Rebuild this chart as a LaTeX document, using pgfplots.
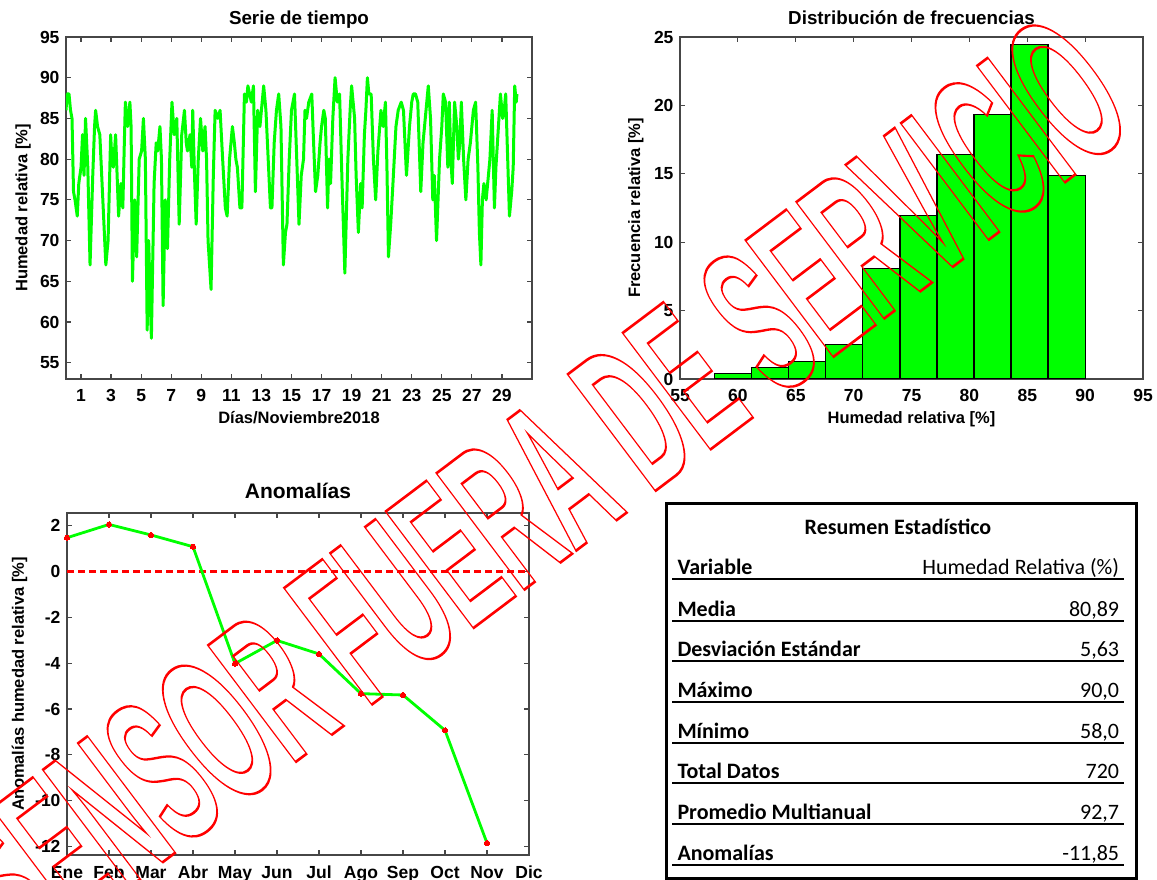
\documentclass[border=0pt]{standalone}
\usepackage{pgfplots}
\pgfplotsset{compat=1.18}
\usepackage{fontspec}
\setmainfont{Liberation Sans}
\newfontfamily\carlito{Carlito}

\definecolor{axgray}{RGB}{70,70,70}
\definecolor{lime}{RGB}{0,255,0}

\pgfplotsset{
  panel/.style={
    scale only axis,
    enlargelimits=false,
    axis line style={draw=axgray, line width=1.3pt},
    every tick/.style={draw=axgray, line width=1.2pt},
    major tick length=5pt,
    tick align=inside,
    /pgf/number format/assume math mode=true,
    tick label style={font=\bfseries\fontsize{17.5}{20}\selectfont},
    label style={font=\bfseries\fontsize{16.5}{19}\selectfont},
    title style={font=\bfseries\fontsize{18.8}{22}\selectfont,
      at={(axis description cs:0.5,1)}, anchor=base, yshift=6pt},
    xticklabel style={anchor=base, yshift=-23pt},
    yticklabel style={xshift=-3pt},
    xlabel style={at={([yshift=-45pt]axis description cs:0.5,0)}, anchor=base},
  }
}

\begin{document}
\begin{tikzpicture}
\useasboundingbox (0pt,0pt) rectangle (1157pt,880pt);

% serie horaria
\begin{axis}[panel,
  at={(66pt,501pt)}, anchor=south west,
  width=466pt, height=342pt,
  xmin=0, xmax=31, ymin=53, ymax=95,
  xtick={1,3,...,29}, ytick={55,60,...,95},
  title={Serie de tiempo},
  xlabel={Días/Noviembre2018},
  ylabel={Humedad relativa [\%]},
  ylabel style={at={([xshift=-38.5pt]axis description cs:0,0.5)}, anchor=base},
]
\addplot[lime, line width=3pt, line join=round] coordinates {
(0,86)(0.08,88)(0.2,88)(0.3,86)(0.4,85)(0.5,76)(0.6,75)(0.75,73)(0.85,77)(1.0,79)
(1.1,83)(1.2,78)(1.3,85)(1.45,79)(1.6,67)(1.78,78)(1.9,84)(1.97,86)(2.1,84)(2.25,83)
(2.45,75)(2.65,67)(2.8,70)(2.97,83)(3.05,80)(3.15,79)(3.3,83)(3.5,73)(3.65,77)(3.78,74)
(3.88,82)(3.95,87)(4.1,84)(4.25,87)(4.33,84)(4.42,65)(4.57,75)(4.7,68)(4.87,80)(5.03,81)
(5.15,85)(5.28,80)(5.4,59)(5.5,70)(5.6,63)(5.68,58)(5.86,77)(6.0,82)(6.1,81)(6.25,84)
(6.35,80)(6.46,62)(6.6,75)(6.75,69)(6.9,80)(7.05,87)(7.2,83)(7.37,85)(7.53,72)(7.7,83)
(7.88,86)(8.0,82)(8.08,81)(8.25,83)(8.37,79)(8.43,86)(8.55,78)(8.66,72)(8.8,80)(8.95,85)
(9.1,81)(9.25,84)(9.35,80)(9.45,70)(9.65,64)(9.8,78)(9.92,86)(10.1,85)(10.25,86)(10.42,80)
(10.6,74)(10.72,73)(10.88,80)(11.07,84)(11.2,82)(11.3,80)(11.4,79)(11.57,74)(11.7,74)(11.87,88)
(12.0,87)(12.1,89)(12.33,87)(12.47,89)(12.6,76)(12.75,86)(12.9,84)(13.15,89)(13.3,86)(13.45,80)
(13.6,74)(13.7,74)(13.85,82)(14.0,86)(14.15,88)(14.3,84)(14.46,67)(14.6,71)(14.7,72)(14.85,80)
(15.0,86)(15.2,88)(15.35,80)(15.5,72)(15.65,78)(15.8,80)(15.9,86)(16.0,85)(16.15,87)(16.35,88)
(16.45,83)(16.6,76)(16.75,78)(16.9,82)(17.0,84)(17.15,86)(17.25,85)(17.4,74)(17.5,80)(17.6,77)
(17.75,85)(17.9,90)(18.05,87)(18.2,88)(18.35,78)(18.55,66)(18.75,80)(18.9,86)(19.0,89)(19.2,85)
(19.3,78)(19.45,71)(19.6,77)(19.7,74)(19.85,83)(19.95,86)(20.05,90)(20.15,88)(20.3,88)(20.45,80)
(20.6,75)(20.75,81)(20.95,86)(21.1,84)(21.25,87)(21.35,79)(21.45,68)(21.6,72)(21.75,77)(21.95,84)
(22.1,86)(22.3,87)(22.45,86)(22.65,78)(22.85,84)(23.0,87)(23.1,88)(23.25,88)(23.4,87)(23.6,76)
(23.75,82)(23.85,84)(24.1,89)(24.25,85)(24.4,75)(24.5,78)(24.65,70)(24.85,80)(25.0,84)(25.1,88)
(25.25,87)(25.4,79)(25.5,87)(25.6,80)(25.7,77)(25.85,87)(26.0,84)(26.1,80)(26.2,82)(26.3,87)
(26.45,80)(26.6,75)(26.75,80)(26.9,82)(27.1,86)(27.25,87)(27.4,79)(27.5,71)(27.6,67)(27.7,75)
(27.8,77)(27.95,75)(28.05,77)(28.2,80)(28.35,86)(28.5,74)(28.6,79)(28.7,82)(28.9,88)(29.05,85)
(29.15,86)(29.25,88)(29.35,82)(29.5,73)(29.65,76)(29.75,79)(29.85,89)(29.95,87)(30.0,88)
};
\end{axis}

% histograma
\begin{axis}[panel,
  at={(680pt,501pt)}, anchor=south west,
  width=463pt, height=342pt,
  xmin=55, xmax=95, ymin=0, ymax=25,
  xtick={55,60,...,95}, ytick={0,5,...,25},
  title={Distribución de frecuencias},
  xlabel={Humedad relativa [\%]},
  ylabel={Frecuencia relativa [\%]},
  ylabel style={at={([xshift=-40pt]axis description cs:0,0.5)}, anchor=base},
]
\addplot[ybar interval, fill=lime, draw=black, line width=1.2pt] coordinates {
(58,0.42)(61.2,0.83)(64.4,1.25)(67.6,2.50)(70.8,8.06)(74,11.94)(77.2,16.39)(80.4,19.31)(83.6,24.44)(86.8,14.86)(90,14.86)
};
\end{axis}

% anomalias mensuales
\begin{axis}[panel,
  at={(67pt,25pt)}, anchor=south west,
  width=462pt, height=342pt,
  xmin=1, xmax=12, ymin=-12.37, ymax=2.55,
  xtick={1,...,12},
  xticklabels={Ene,Feb,Mar,Abr,May,Jun,Jul,Ago,Sep,Oct,Nov,Dic},
  xticklabel style={yshift=-1pt},
  ytick={-12,-10,...,2},
  title={Anomalías},
  title style={font=\bfseries\fontsize{21}{24}\selectfont, yshift=2pt},
  ylabel={Anomalías humedad relativa [\%]},
  ylabel style={at={([xshift=-43pt]axis description cs:0,0.5)}, anchor=base},
]
\addplot[red, line width=2.3pt, dash pattern=on 7pt off 4pt] coordinates {(1,0)(12,0)};
\addplot[lime, line width=2.8pt, mark=*, mark size=2.6pt,
  mark options={fill=red, draw=red, line width=0pt, solid}] coordinates {
(1,1.47)(2,2.05)(3,1.59)(4,1.08)(5,-4.02)(6,-3.01)(7,-3.6)(8,-5.33)(9,-5.39)(10,-6.93)(11,-11.85)
};
\end{axis}

% tabla resumen
\draw[black, line width=2.6pt] (666.7pt,1.7pt) rectangle (1136.7pt,376.7pt);
\node[font=\carlito\bfseries\fontsize{22}{24}\selectfont, anchor=base] at (898pt,345.7pt) {Resumen Estadístico};
\foreach \yb/\lab/\val in {
  305.2/Variable/Humedad Relativa (\%),
  263.8/Media/{80,89},
  223.2/Desviación Estándar/{5,63},
  182.5/Máximo/{90,0},
  141.8/Mínimo/{58,0},
  101.2/Total Datos/720,
  60.5/Promedio Multianual/{92,7},
  19.2/Anomalías/{-11,85}} {
  \node[font=\carlito\bfseries\fontsize{22}{24}\selectfont, anchor=base west, inner sep=0pt] at (677.3pt,\yb pt) {\lab};
  \node[font=\carlito\fontsize{22}{24}\selectfont, anchor=base east, inner sep=0pt] at (1119.3pt,\yb pt) {\val};
  \draw[black, line width=2pt] (672.3pt,\yb pt-4.5pt) -- (1124pt,\yb pt-4.5pt);
}

% marca de agua
\node[transform shape, rotate=37, xscale=0.45, inner sep=0pt, text=red,
  font=\bfseries\fontsize{212}{212}\selectfont] at (538pt,392pt)
  {\special{pdf:literal direct 1 Tr 2.6 w}SENSOR FUERA DE SERVICIO\special{pdf:literal direct 0 Tr}};
\end{tikzpicture}
\end{document}
